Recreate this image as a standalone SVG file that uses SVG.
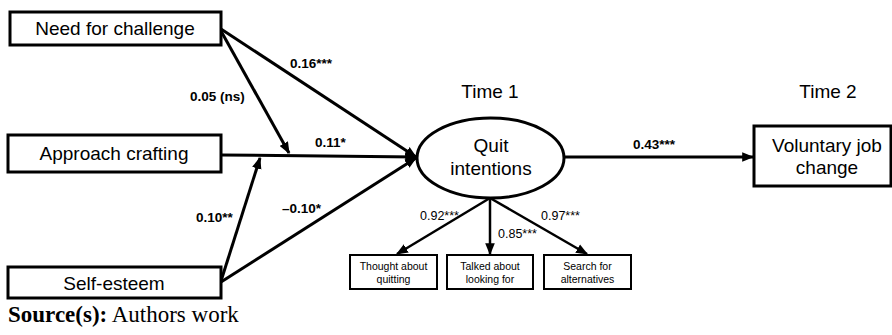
<svg xmlns="http://www.w3.org/2000/svg" width="892" height="335" viewBox="0 0 892 335">
<style>
.box{fill:#fff;stroke:#000;stroke-width:3}
.sbox{fill:#fff;stroke:#000;stroke-width:2}
.t{font-family:"Liberation Sans",Arial,sans-serif;font-size:19px;fill:#000;text-anchor:middle}
.s{font-family:"Liberation Sans",Arial,sans-serif;font-size:10.5px;fill:#000;text-anchor:middle}
.lb{font-family:"Liberation Sans",Arial,sans-serif;font-size:13.5px;font-weight:bold;fill:#000}
.ln{font-family:"Liberation Sans",Arial,sans-serif;font-size:12.5px;fill:#000}
.c{fill:none;stroke:#000;stroke-width:3}
.c2{fill:none;stroke:#000;stroke-width:2.5}
</style>
<defs>
<marker id="ah" viewBox="0 0 10 8" refX="9" refY="4" markerWidth="12" markerHeight="10" orient="auto" markerUnits="userSpaceOnUse">
<path d="M0,0 L10,4 L0,8 z" fill="#000"/>
</marker>
</defs>
<rect width="892" height="335" fill="#fff"/>
<g id="connectors">
<path class="c" d="M221,29 L416,157" marker-end="url(#ah)"/>
<path class="c" d="M221,31 L289,153" marker-end="url(#ah)"/>
<path class="c" d="M221,155 L416,157" marker-end="url(#ah)"/>
<path class="c" d="M221,281 L260,158" marker-end="url(#ah)"/>
<path class="c" d="M221,282 L416,158" marker-end="url(#ah)"/>
<path class="c" d="M564,157 L753,157" marker-end="url(#ah)"/>
<path class="c2" d="M490,198 L397,254" marker-end="url(#ah)"/>
<path class="c2" d="M490,198 L490,254" marker-end="url(#ah)"/>
<path class="c2" d="M490,198 L587,254" marker-end="url(#ah)"/>
<text class="lb" x="290" y="68">0.16***</text>
<text class="lb" x="190" y="101">0.05 (ns)</text>
<text class="lb" x="315" y="147">0.11*</text>
<text class="lb" x="196" y="222">0.10**</text>
<text class="lb" x="282" y="213">–0.10*</text>
<text class="lb" x="633" y="149">0.43***</text>
<text class="ln" x="420" y="220">0.92***</text>
<text class="ln" x="498" y="238">0.85***</text>
<text class="ln" x="541" y="220">0.97***</text>
</g>
<g id="need">
<rect class="box" x="10" y="12" width="211" height="33"/>
<text class="t" x="115" y="35">Need for challenge</text>
</g>
<g id="approach">
<rect class="box" x="8" y="135" width="213" height="37"/>
<text class="t" x="114" y="160">Approach crafting</text>
</g>
<g id="selfesteem">
<rect class="box" x="8" y="267" width="213" height="31"/>
<text class="t" x="114" y="290">Self-esteem</text>
</g>
<g id="time1"><text class="t" x="490" y="98">Time 1</text></g>
<g id="time2"><text class="t" x="828" y="98">Time 2</text></g>
<g id="quit">
<ellipse class="box" cx="490.5" cy="158" rx="73.5" ry="40"/>
<text class="t" x="491" y="152">Quit</text>
<text class="t" x="491" y="175">intentions</text>
</g>
<g id="voluntary">
<rect class="box" x="754" y="126" width="137" height="60"/>
<text class="t" x="827" y="152">Voluntary job</text>
<text class="t" x="827" y="174">change</text>
</g>
<g id="thought">
<rect class="sbox" x="350" y="255" width="87" height="34"/>
<text class="s" x="393.5" y="270">Thought about</text>
<text class="s" x="393.5" y="283">quitting</text>
</g>
<g id="talked">
<rect class="sbox" x="447" y="255" width="86" height="34"/>
<text class="s" x="490" y="270">Talked about</text>
<text class="s" x="490" y="283">looking for</text>
</g>
<g id="search">
<rect class="sbox" x="544" y="255" width="87" height="34"/>
<text class="s" x="587.5" y="270">Search for</text>
<text class="s" x="587.5" y="283">alternatives</text>
</g>
<g id="source">
<text x="8" y="322" font-family="'Liberation Serif','Times New Roman',serif" font-size="23" fill="#000"><tspan font-weight="bold">Source(s):</tspan> Authors work</text>
</g>
</svg>
